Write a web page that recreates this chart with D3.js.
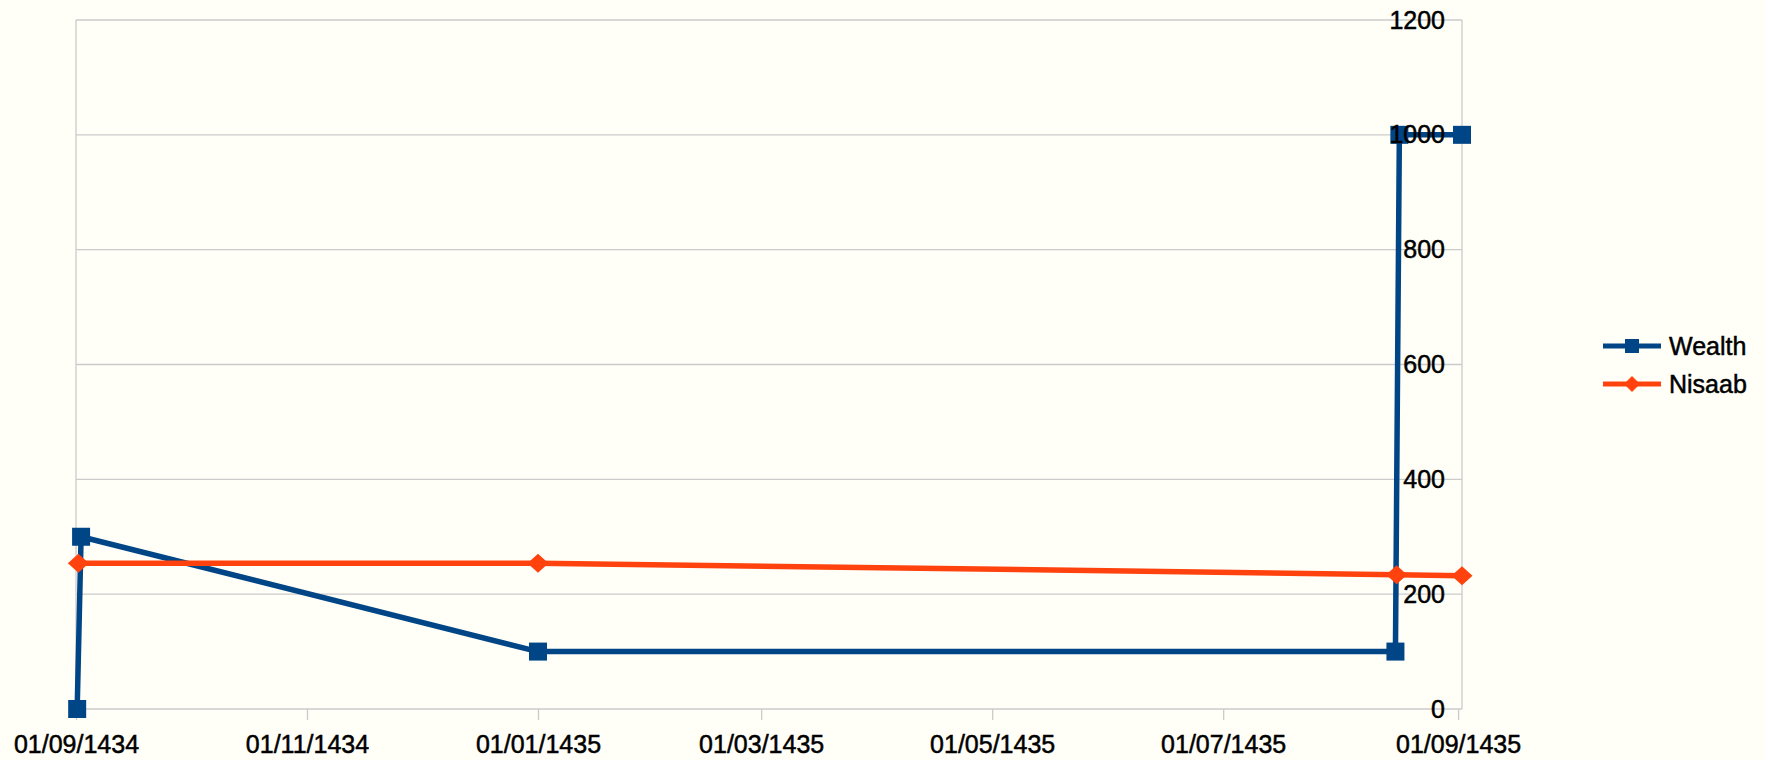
<!DOCTYPE html>
<html lang="en">
<head>
    <meta charset="UTF-8">
    <title>Wealth and Nisaab</title>
    <script src="https://d3js.org/d3.v7.min.js"></script>
    <style>
        body { margin: 0; background: #fffff8; }
        svg { display: block; font-family: "Liberation Sans", Arial, sans-serif; }
        .lbl { font-size: 25px; fill: #000; stroke: #000; stroke-width: 0.5px; }
    </style>
</head>
<body>
    <div id="chart-container"></div>

    <script>
        // Dates are kept as day offsets from 01/09/1434 (Hijri)
        const tickDays = [0, 59, 118, 175, 234, 293, 353];
        const tickLabels = ["01/09/1434", "01/11/1434", "01/01/1435", "01/03/1435",
                            "01/05/1435", "01/07/1435", "01/09/1435"];
        const yTicks = [0, 200, 400, 600, 800, 1000, 1200];

        const wealthDays = [0.3, 1.3, 118, 337, 338, 354];
        const wealthValues = [0, 300, 100, 100, 1000, 1000];

        const nisaabDays = [0.6, 118, 337.3, 354];
        const nisaabValues = [254, 254, 234, 232];

        const seriesNames = ["Wealth", "Nisaab"];
        const seriesColors = ["#004586", "#ff420e"];

        const width = 1766;
        const height = 760;
        const plotLeft = 76, plotRight = 1462, plotTop = 20, plotBottom = 709;

        const svg = d3.select("#chart-container")
            .append("svg")
            .attr("width", width)
            .attr("height", height);

        const xScale = d3.scaleLinear().domain([0, 354]).range([plotLeft, plotRight]);
        const yScale = d3.scaleLinear().domain([0, 1200]).range([plotBottom, plotTop]);

        // grid lines
        svg.append("g")
            .selectAll("line")
            .data(yTicks)
            .enter()
            .append("line")
            .attr("x1", plotLeft)
            .attr("x2", plotRight)
            .attr("y1", d => yScale(d))
            .attr("y2", d => yScale(d))
            .attr("stroke", "#cbcbcb")
            .attr("stroke-width", 1.3);

        // plot side borders
        svg.append("line")
            .attr("x1", plotLeft).attr("x2", plotLeft)
            .attr("y1", plotTop).attr("y2", plotBottom)
            .attr("stroke", "#cbcbcb").attr("stroke-width", 1.3);
        svg.append("line")
            .attr("x1", plotRight).attr("x2", plotRight)
            .attr("y1", plotTop).attr("y2", plotBottom)
            .attr("stroke", "#cbcbcb").attr("stroke-width", 1.3);

        // x axis ticks + labels
        const xAxis = d3.axisBottom(xScale)
            .tickValues(tickDays)
            .tickFormat((d, i) => tickLabels[i])
            .tickSize(11)
            .tickPadding(33);
        const gx = svg.append("g")
            .attr("transform", `translate(0, ${plotBottom})`)
            .call(xAxis);
        gx.select(".domain").remove();
        gx.selectAll(".tick line").attr("stroke", "#cbcbcb").attr("stroke-width", 1.3);
        gx.selectAll(".tick text")
            .attr("class", "lbl")
            .attr("font-family", null)
            .attr("dy", "0");

        const line = d3.line()
            .x(d => xScale(d[0]))
            .y(d => yScale(d[1]));

        // Wealth series
        const wealth = wealthDays.map((d, i) => [d, wealthValues[i]]);
        svg.append("path")
            .datum(wealth)
            .attr("d", line)
            .attr("fill", "none")
            .attr("stroke", seriesColors[0])
            .attr("stroke-width", 5.5)
            .attr("stroke-linejoin", "round");
        svg.selectAll("rect.wealth")
            .data(wealth)
            .enter()
            .append("rect")
            .attr("class", "wealth")
            .attr("x", d => xScale(d[0]) - 9)
            .attr("y", d => yScale(d[1]) - 9)
            .attr("width", 18)
            .attr("height", 18)
            .attr("fill", seriesColors[0]);

        // Nisaab series
        const nisaab = nisaabDays.map((d, i) => [d, nisaabValues[i]]);
        const diamond = (cx, cy, w, h) =>
            `M${cx},${cy - h / 2}L${cx + w / 2},${cy}L${cx},${cy + h / 2}L${cx - w / 2},${cy}Z`;
        svg.append("path")
            .datum(nisaab)
            .attr("d", line)
            .attr("fill", "none")
            .attr("stroke", seriesColors[1])
            .attr("stroke-width", 5.5)
            .attr("stroke-linejoin", "round");
        svg.selectAll("path.nisaab")
            .data(nisaab)
            .enter()
            .append("path")
            .attr("class", "nisaab")
            .attr("d", d => diamond(xScale(d[0]), yScale(d[1]), 21, 19))
            .attr("fill", seriesColors[1]);

        // y axis labels, drawn inside the right edge
        const yAxis = d3.axisLeft(yScale)
            .tickValues(yTicks)
            .tickFormat(d3.format("d"))
            .tickSize(0)
            .tickPadding(17);
        const gy = svg.append("g")
            .attr("transform", `translate(${plotRight}, 0)`)
            .call(yAxis);
        gy.select(".domain").remove();
        gy.selectAll(".tick text")
            .attr("class", "lbl")
            .attr("font-family", null);

        // legend
        const legend = svg.append("g");
        seriesNames.forEach((name, i) => {
            const ly = 346 + i * 38;
            legend.append("line")
                .attr("x1", 1603).attr("x2", 1661)
                .attr("y1", ly).attr("y2", ly)
                .attr("stroke", seriesColors[i])
                .attr("stroke-width", 5);
            if (i === 0) {
                legend.append("rect")
                    .attr("x", 1632 - 7).attr("y", ly - 7)
                    .attr("width", 14).attr("height", 14)
                    .attr("fill", seriesColors[i]);
            } else {
                legend.append("path")
                    .attr("d", diamond(1632, ly, 16, 16))
                    .attr("fill", seriesColors[i]);
            }
            legend.append("text")
                .attr("class", "lbl")
                .attr("x", 1669)
                .attr("y", ly)
                .attr("dy", "0.35em")
                .text(name);
        });
    </script>
</body>
</html>
